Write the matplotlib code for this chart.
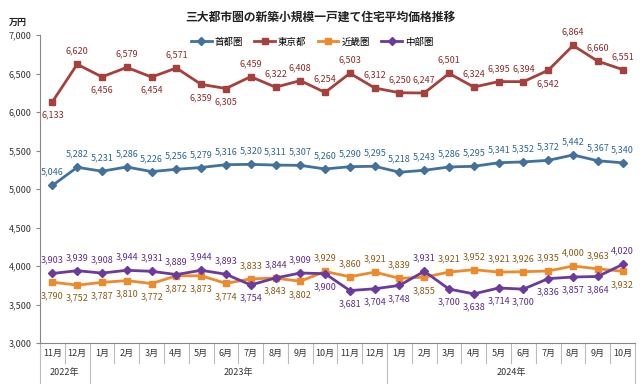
import numpy as np
import matplotlib
matplotlib.use("Agg")
import matplotlib.pyplot as plt
from matplotlib.transforms import blended_transform_factory

plt.rcParams["font.family"] = ["Noto Sans CJK JP", "DejaVu Sans"]

TITLE = "三大都市圏の新築小規模一戸建て住宅平均価格推移"
MONTHS = ["11月", "12月"] + [f"{m}月" for m in range(1, 13)] + [f"{m}月" for m in range(1, 11)]
YEARS = [("2022年", 0, 1), ("2023年", 2, 13), ("2024年", 14, 23)]

shutoken = [5046, 5282, 5231, 5286, 5226, 5256, 5279, 5316, 5320, 5311, 5307, 5260,
            5290, 5295, 5218, 5243, 5286, 5295, 5341, 5352, 5372, 5442, 5367, 5340]
tokyo = [6133, 6620, 6456, 6579, 6454, 6571, 6359, 6305, 6459, 6322, 6408, 6254,
         6503, 6312, 6250, 6247, 6501, 6324, 6395, 6394, 6542, 6864, 6660, 6551]
kinki = [3790, 3752, 3787, 3810, 3772, 3872, 3873, 3774, 3833, 3843, 3802, 3929,
         3860, 3921, 3839, 3855, 3921, 3952, 3921, 3926, 3935, 4000, 3963, 3932]
chubu = [3903, 3939, 3908, 3944, 3931, 3889, 3944, 3893, 3754, 3844, 3909, 3900,
         3681, 3704, 3748, 3931, 3700, 3638, 3714, 3700, 3836, 3857, 3864, 4020]

# label placement: 1 = above, -1 = below
tokyo_pos = [-1, 1, -1, 1, -1, 1, -1, -1, 1, 1, 1, 1, 1, 1, 1, 1, 1, 1, 1, 1, -1, 1, 1, 1]
shutoken_pos = [1] * 24
kinki_pos = [-1, -1, -1, -1, -1, -1, -1, -1, 1, -1, -1, 1, 1, 1, 1, -1, 1, 1, 1, 1, 1, 1, 1, -1]
chubu_pos = [1, 1, 1, 1, 1, 1, 1, 1, -1, 1, 1, -1, -1, -1, -1, 1, -1, -1, -1, -1, -1, -1, -1, 1]

series = [
    ("首都圏", shutoken, shutoken_pos, "#41719C", "#2F6596", "D", 4.5),
    ("東京都", tokyo, tokyo_pos, "#A5403D", "#8E2A2A", "s", 5),
    ("近畿圏", kinki, kinki_pos, "#ED8A2C", "#8A5A14", "s", 5),
    ("中部圏", chubu, chubu_pos, "#6A3A9C", "#5B2D8A", "D", 4.5),
]

fig = plt.figure(figsize=(6.4, 3.9), dpi=100)
ax = fig.add_axes([40 / 640, 1 - 343 / 390, 595 / 640, 308 / 390])

x = np.arange(len(MONTHS))
for name, vals, pos, col, lcol, mk, ms in series:
    ax.plot(x, vals, color=col, lw=2, marker=mk, ms=ms, label=name, zorder=3)
    for xi, v, p in zip(x, vals, pos):
        ax.annotate(f"{v:,}", (xi, v), xytext=(0, 9.5 * p), textcoords="offset points",
                    ha="center", va="center", fontsize=6.5, color=lcol)

ax.set_xlim(-0.5, len(MONTHS) - 0.5)
ax.set_ylim(3000, 7000)
ax.set_yticks(range(3000, 7001, 500))
ax.set_yticklabels([f"{v:,}" for v in range(3000, 7001, 500)], fontsize=6.5, color="#333333")
ax.tick_params(axis="y", length=3, color="#888888", pad=3)
ax.set_xticks([])
for s in ["top", "right"]:
    ax.spines[s].set_visible(False)
for s in ["left", "bottom"]:
    ax.spines[s].set_color("#888888")
    ax.spines[s].set_linewidth(0.8)

# multi-level category axis
tr = blended_transform_factory(ax.transData, ax.transAxes)
month_h = 20 / 308
year_h = 40 / 308
year_edges = {-0.5, 1.5, 13.5, 23.5}
for b in np.arange(-0.5, len(MONTHS), 1.0):
    depth = year_h if b in year_edges else month_h
    ax.plot([b, b], [0, -depth], transform=tr, color="#BBBBBB", lw=0.8, clip_on=False)
for xi, m in zip(x, MONTHS):
    ax.text(xi, -month_h / 2, m, transform=tr, ha="center", va="center", fontsize=6.5, color="#333333")
for label, a, b in YEARS:
    ax.text((a + b) / 2, -month_h - (year_h - month_h) / 2, label, transform=tr,
            ha="center", va="center", fontsize=6.5, color="#333333")

fig.text(0.5, 1 - 17 / 390, TITLE, ha="center", va="center", fontsize=8.5, fontweight="bold", color="#222222")
fig.text(18 / 640, 1 - 22 / 390, "万円", ha="center", va="center", fontsize=6.5, fontweight="bold", color="#222222")
ax.legend(loc="center", bbox_to_anchor=(312 / 640, 1 - 42 / 390), bbox_transform=fig.transFigure,
          ncol=4, frameon=False, fontsize=6.8, handlelength=2.2, columnspacing=1.2, handletextpad=0.3,
          markerscale=0.8)

fig.savefig("out.png", dpi=100)
